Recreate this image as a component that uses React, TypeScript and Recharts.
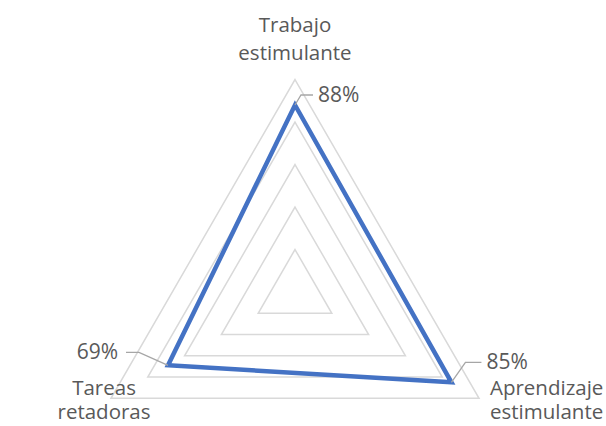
import { RadarChart, Radar, PolarGrid, PolarAngleAxis, PolarRadiusAxis, LabelList } from 'recharts';

const categories = ['Trabajo estimulante', 'Aprendizaje estimulante', 'Tareas retadoras'];
const values = [88, 85, 69];

const data = categories.map((name, i) => ({ name, value: values[i] }));

const FONT = '"Open Sans", sans-serif';
const TEXT = '#595959';

// where each category label sits relative to its tick point (two lines)
const tickLayout = [
  { dx: 0, dy: -40, anchor: 'middle' },
  { dx: 4, dy: -7, anchor: 'start' },
  { dx: 0, dy: -7, anchor: 'middle' },
];
const LINE_GAP = 24;

const renderTick = (props: any) => {
  const { x, y, payload, index } = props;
  const lay = tickLayout[index] || tickLayout[0];
  const words = String(payload.value).split(' ');
  return (
    <text
      x={x + lay.dx}
      y={y + lay.dy}
      textAnchor={lay.anchor}
      fontFamily={FONT}
      fontSize={20.5}
      fill={TEXT}
    >
      {words.map((w, i) => (
        <tspan key={i} x={x + lay.dx} dy={i === 0 ? 0 : LINE_GAP + (index === 0 ? 4 : 0)}>
          {w}
        </tspan>
      ))}
    </text>
  );
};

// leader line + percent label for each point
const labelLayout = [
  { bend: [6, -10], end: [18, -10], anchor: 'start' },
  { bend: [14, -20], end: [30, -20], anchor: 'start' },
  { bend: [-29, -13], end: [-42, -13], anchor: 'end' },
];

const renderValueLabel = (props: any) => {
  const { x, y, value, index } = props;
  const lay = labelLayout[index] || labelLayout[0];
  const bx = x + lay.bend[0];
  const by = y + lay.bend[1];
  const ex = x + lay.end[0];
  const ey = y + lay.end[1];
  const tx = lay.anchor === 'start' ? ex + 5 : ex - 8;
  return (
    <g>
      <polyline points={`${x},${y} ${bx},${by} ${ex},${ey}`} fill="none" stroke="#a6a6a6" strokeWidth={1.3} />
      <text x={tx} y={ey + 7} textAnchor={lay.anchor} fontFamily={FONT} fontSize={21} fill={TEXT}>
        {value}%
      </text>
    </g>
  );
};

export default function App() {
  return (
    <div style={{ position: 'absolute', left: 0, top: 0, width: 606, height: 426, background: '#fff' }}>
      <RadarChart width={606} height={426} data={data} cx={295} cy={292} outerRadius={212.5} margin={{ top: 0, right: 0, bottom: 0, left: 0 }}>
        <PolarGrid gridType="polygon" radialLines={false} stroke="#d9d9d9" strokeWidth={1.5} />
        <PolarRadiusAxis domain={[0, 100]} tickCount={6} tick={false} axisLine={false} />
        <PolarAngleAxis dataKey="name" tick={renderTick} tickLine={false} axisLine={false} />
        <Radar dataKey="value" stroke="#4472C4" strokeWidth={4.5} fill="none" fillOpacity={0} isAnimationActive={false}>
          <LabelList dataKey="value" content={renderValueLabel} />
        </Radar>
      </RadarChart>
    </div>
  );
}
